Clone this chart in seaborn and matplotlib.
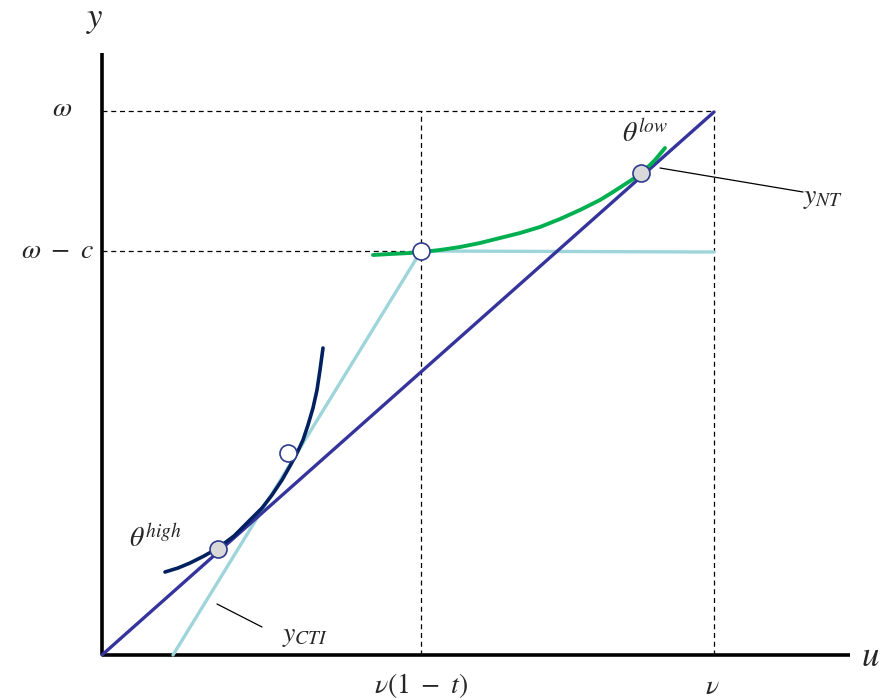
import seaborn as sns
import matplotlib.pyplot as plt
import pandas as pd

# values (u across, y up; nu = 612, omega = 544)
nu = 612
nu_1mt = 319
omega = 544
omega_c = 404

line45_u = [0, 612]
line45_y = [0, 543]

cti_u = [71, 319, 612]
cti_y = [0, 404, 403]

low_u = [271, 288, 308, 320, 338, 358, 378, 398, 418, 438, 458, 478, 498, 511, 528, 540, 553, 563]
low_y = [400, 401, 402, 403, 405, 408, 412, 417, 422, 428, 436, 445, 455, 463, 474, 482, 495, 507]

high_u = [63, 76, 88, 102, 116, 132, 148, 160, 170, 180, 188, 195, 201, 206, 211, 215, 218, 221]
high_y = [83, 87, 92, 99, 107, 119, 135, 147, 160, 175, 189, 202, 215, 230, 247, 265, 285, 307]

open_pts_u = [319, 186]
open_pts_y = [404, 202]
grey_pts_u = [539, 116]
grey_pts_y = [482, 106]

sns.set_style('white')
plt.rcParams['mathtext.fontset'] = 'stix'

fig = plt.figure(figsize=(8.81, 7), dpi=100)
ax = fig.add_axes([0, 0, 1, 1])
ax.set_xlim(-102, 779)
ax.set_ylim(-45, 655)
ax.axis('off')

# guide lines
dash = dict(color='black', lw=0.9, ls=(0, (4, 3)))
ax.plot([0, nu], [omega, omega], **dash)
ax.plot([0, nu_1mt], [omega_c, omega_c], **dash)
ax.plot([nu_1mt, nu_1mt], [0, omega], **dash)
ax.plot([nu, nu], [0, omega], **dash)

# axes
ax.plot([0, 748], [0, 0], color='black', lw=2.6, solid_capstyle='butt')
ax.plot([0, 0], [0, 602], color='black', lw=2.6, solid_capstyle='butt')

# curves
sns.lineplot(x=cti_u, y=cti_y, sort=False, color='#9ed5da', lw=2.4, ax=ax)
sns.lineplot(x=line45_u, y=line45_y, sort=False, color='#35349c', lw=2.4, ax=ax)
sns.lineplot(x=low_u, y=low_y, sort=False, color='#00b050', lw=2.8, ax=ax)
sns.lineplot(x=high_u, y=high_y, sort=False, color='#002060', lw=2.6, ax=ax)

# points
sns.scatterplot(x=open_pts_u, y=open_pts_y, s=150, color='white',
                edgecolor='#2e3b8c', linewidth=1.2, zorder=5, ax=ax)
sns.scatterplot(x=grey_pts_u, y=grey_pts_y, s=150, color='#d9d9d9',
                edgecolor='#2e3b8c', linewidth=1.2, zorder=5, ax=ax)

# leader lines
ax.plot([558, 701], [487, 463], color='black', lw=0.9)
ax.plot([115, 160], [51, 28], color='black', lw=0.9)

# labels
fs = 20
ax.text(-7, 636, r'$y$', fontsize=25, ha='center', va='center')
ax.text(768, -1, r'$u$', fontsize=25, ha='center', va='center')
ax.text(-40, 547, r'$\omega$', fontsize=fs, ha='center', va='center')
ax.text(-44, 405, r'$\omega\ -\ c$', fontsize=fs, ha='center', va='center')
ax.text(nu_1mt, -30, r'$\nu(1\ -\ t)$', fontsize=fs, ha='center', va='center')
ax.text(nu - 2, -31, r'$\nu$', fontsize=fs, ha='center', va='center')
ax.text(543, 521, r'$\theta^{low}$', fontsize=fs, ha='center', va='center')
ax.text(53, 116, r'$\theta^{high}$', fontsize=fs, ha='center', va='center')
ax.text(721, 458, r'$y_{NT}$', fontsize=fs, ha='center', va='center')
ax.text(203, 20, r'$y_{CTI}$', fontsize=fs, ha='center', va='center')

plt.savefig('out.png', dpi=100)
